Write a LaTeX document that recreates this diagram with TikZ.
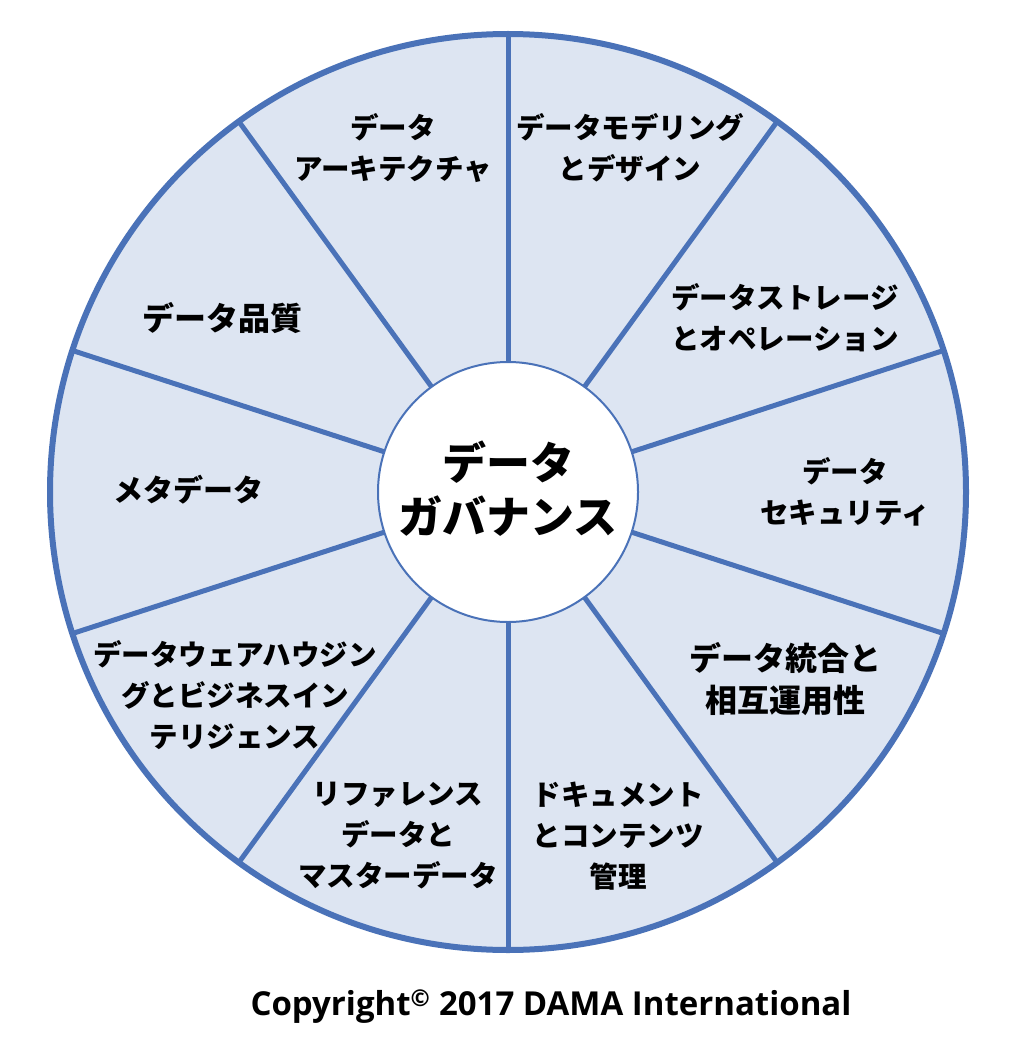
\documentclass[tikz,border=0pt]{standalone}
\usepackage{fontspec}
\newfontfamily\jp{Noto Sans CJK JP}
\newfontfamily\lat{Open Sans}
\definecolor{wheelline}{RGB}{74,114,184}
\definecolor{wheelfill}{RGB}{221,229,242}
\begin{document}
\begin{tikzpicture}[x=1pt,y=1pt,
  seg/.style={font=\jp\bfseries\fontsize{28.5}{41}\selectfont, align=center, text=black},
  bigseg/.style={seg, font=\jp\bfseries\fontsize{32}{42}\selectfont},
  spoke/.style={draw=wheelline, line width=5pt}]
\useasboundingbox (0,0) rectangle (1008,-1056);
\fill[white] (0,0) rectangle (1008,-1056);
\node[circle, draw=wheelline, fill=wheelfill, line width=6pt, minimum size=916pt, inner sep=0pt, outer sep=0pt] (outer) at (508,-492) {};
\foreach \a in {90,126,162,198,234,270,306,342,18,54}{
  \draw[spoke] (508,-492)++(\a:128) -- ++(\a:330);
}
\node[circle, draw=wheelline, fill=white, line width=2pt, minimum size=260pt, inner sep=0pt, outer sep=0pt] (hub) at (508,-492) {};
\node[font=\jp\bfseries\fontsize{44}{54}\selectfont, align=center] (gov) at (508,-489) {データ\\ガバナンス};
\node[seg] (s1) at (393,-148) {データ\\アーキテクチャ};
\node[seg] (s2) at (630,-148) {データモデリング\\とデザイン};
\node[seg] (s3) at (785,-318) {データストレージ\\とオペレーション};
\node[seg] (s4) at (845,-492) {データ\\セキュリティ};
\node[bigseg] (s5) at (785,-679) {データ統合と\\相互運用性};
\node[seg] (s6) at (618,-836) {ドキュメント\\とコンテンツ\\管理};
\node[seg] (s7) at (398,-836) {リファレンス\\データと\\マスターデータ};
\node[seg] (s8) at (235,-695) {データウェアハウジン\\グとビジネスイン\\テリジェンス};
\node[seg, font=\jp\bfseries\fontsize{30}{40}\selectfont] (s9) at (188,-490) {メタデータ};
\node[bigseg] (s10) at (222,-318) {データ品質};
\node[font=\lat\bfseries\fontsize{33}{38}\selectfont] (copy) at (551,-1007) {Copyright\textsuperscript{©} 2017 DAMA International};
\end{tikzpicture}
\end{document}
